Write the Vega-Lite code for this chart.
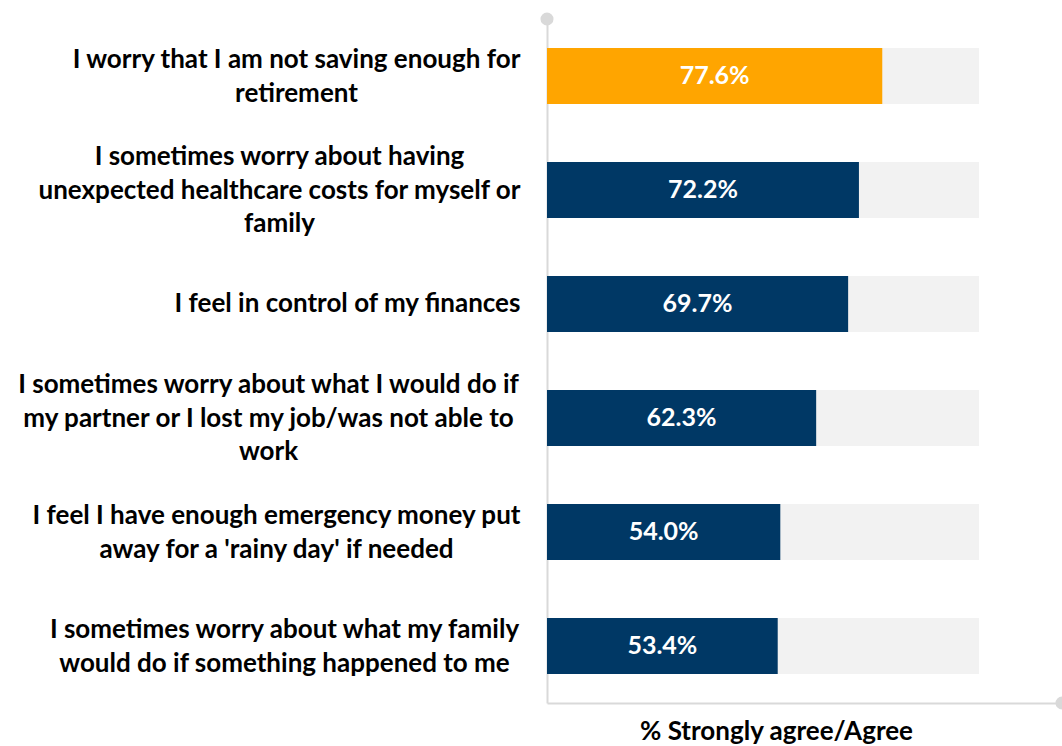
{
  "$schema": "https://vega.github.io/schema/vega-lite/v6.json",
  "width": 515,
  "height": 684,
  "autosize": "none",
  "padding": {"left": 547, "top": 19, "right": 0, "bottom": 43},
  "background": "white",
  "config": {"view": {"stroke": null}, "font": "Lato"},
  "data": {
    "values": [
      {"label": "I worry that I am not saving enough for|retirement", "value": 0.776, "group": "highlight"},
      {"label": "I sometimes worry about having|unexpected healthcare costs for myself or|family", "value": 0.722, "group": "other"},
      {"label": "I feel in control of my finances", "value": 0.697, "group": "other"},
      {"label": "I sometimes worry about what I would do if|my partner or I lost my job/was not able to|work", "value": 0.623, "group": "other"},
      {"label": "I feel I have enough emergency money put|away for a 'rainy day' if needed", "value": 0.54, "group": "other"},
      {"label": "I sometimes worry about what my family|would do if something happened to me", "value": 0.534, "group": "other"}
    ]
  },
  "resolve": {"scale": {"x": "independent"}},
  "encoding": {
    "y": {
      "field": "label",
      "type": "nominal",
      "sort": null,
      "scale": {"paddingInner": 0.51, "paddingOuter": 0.255},
      "axis": {
        "title": null,
        "ticks": false,
        "domainColor": "#D9D9D9",
        "domainWidth": 2,
        "labelExpr": "split(datum.label, '|')",
        "labelFont": "Lato",
        "labelFontSize": 26,
        "labelFontWeight": "bold",
        "labelColor": "#000000",
        "labelAlign": "center",
        "labelBaseline": "middle",
        "labelLineHeight": 33.5,
        "labelLimit": 0,
        "labelOffset": {
          "condition": [
            {"test": "length(split(datum.value, '|')) == 3", "value": -33},
            {"test": "length(split(datum.value, '|')) == 2", "value": -16}
          ],
          "value": 0
        },
        "labelPadding": {
          "condition": [
            {"test": "indexof(datum.value, 'retirement') >= 0", "value": 251},
            {"test": "indexof(datum.value, 'healthcare') >= 0", "value": 268},
            {"test": "indexof(datum.value, 'control') >= 0", "value": 200},
            {"test": "indexof(datum.value, 'partner') >= 0", "value": 279},
            {"test": "indexof(datum.value, 'emergency') >= 0", "value": 271}
          ],
          "value": 263
        }
      }
    }
  },
  "layer": [
    {
      "mark": {"type": "bar", "color": "#F2F2F2"},
      "encoding": {
        "x": {
          "datum": 1,
          "type": "quantitative",
          "scale": {"domain": [0, 1.192], "nice": false, "zero": true},
          "axis": {
            "title": "% Strongly agree/Agree",
            "titleFont": "Lato",
            "titleFontSize": 26,
            "titleFontWeight": "bold",
            "titleColor": "#000000",
            "titleX": 229,
            "titlePadding": 15,
            "labels": false,
            "ticks": false,
            "grid": false,
            "domainColor": "#D9D9D9",
            "domainWidth": 2
          }
        }
      }
    },
    {
      "mark": {"type": "bar"},
      "encoding": {
        "x": {"field": "value", "type": "quantitative", "scale": {"domain": [0, 1.192], "nice": false}, "axis": null},
        "color": {
          "field": "group",
          "type": "nominal",
          "scale": {"domain": ["highlight", "other"], "range": ["#FFA500", "#003865"]},
          "legend": null
        }
      }
    },
    {
      "mark": {"type": "text", "color": "white", "fontWeight": "bold", "fontSize": 25, "align": "center", "baseline": "middle", "font": "Lato"},
      "encoding": {
        "x": {"field": "value", "type": "quantitative", "scale": {"domain": [0, 2.384], "nice": false}, "axis": null},
        "text": {"field": "value", "type": "quantitative", "format": ".1%"}
      }
    },
    {
      "data": {"values": [{"pos": "top"}]},
      "mark": {"type": "point", "filled": true, "color": "#D9D9D9", "opacity": 1, "size": 170},
      "encoding": {
        "x": {"datum": 0, "type": "quantitative", "scale": {"domain": [0, 1.192], "nice": false}, "axis": null},
        "y": {"value": 0}
      }
    },
    {
      "data": {"values": [{"pos": "end"}]},
      "mark": {"type": "point", "filled": true, "color": "#D9D9D9", "opacity": 1, "size": 170},
      "encoding": {
        "x": {"datum": 1.192, "type": "quantitative", "scale": {"domain": [0, 1.192], "nice": false}, "axis": null},
        "y": {"value": {"expr": "height"}}
      }
    }
  ]
}
